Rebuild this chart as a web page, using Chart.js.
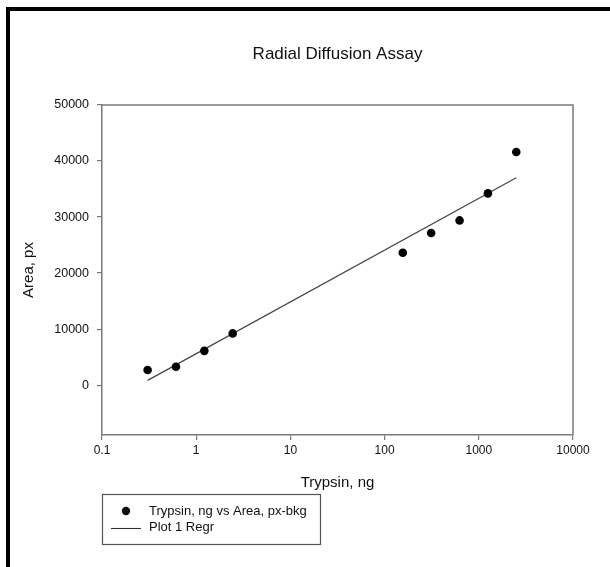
<!DOCTYPE html>
<html>
<head>
<meta charset="utf-8">
<script src="https://cdn.jsdelivr.net/npm/chart.js@4.4.1/dist/chart.umd.min.js"></script>
<style>
  html, body { margin: 0; padding: 0; background: #fff; }
  #wrap { position: relative; width: 610px; height: 567px; }
  #frame { position: absolute; left: 6px; top: 7px; right: 0; bottom: 0;
           border-top: 4px solid #000; border-left: 4px solid #000; pointer-events: none; }
  canvas { position: absolute; left: 0; top: 0; }
</style>
</head>
<body>
<div id="wrap">
  <canvas id="c" width="610" height="567"></canvas>
  <div id="frame"></div>
</div>
<script>
// ---- data ----
const trypsinNg = [0.305, 0.61, 1.22, 2.44, 156, 312, 625, 1250, 2500];
const areaPx    = [2700, 3270, 6120, 9230, 23620, 27150, 29400, 34230, 41600];
const regrX     = [0.305, 2500];
const regrY     = [850, 37030];
const xTickValues = [0.1, 1, 10, 100, 1000, 10000];
const yTickValues = [0, 10000, 20000, 30000, 40000, 50000];
const chartTitle  = 'Radial Diffusion Assay';
const seriesLabel = 'Trypsin, ng vs Area, px-bkg';
const regrLabel   = 'Plot 1 Regr';

const FONT = "'Liberation Sans', Arial, sans-serif";
const AXIS_GRAY = '#7a7a7a';

const pointData = trypsinNg.map((x, i) => ({ x: x, y: areaPx[i] }));
const regrData  = regrX.map((x, i) => ({ x: x, y: regrY[i] }));

const extrasPlugin = {
  id: 'extras',
  afterDraw(chart) {
    const { ctx, chartArea: a } = chart;
    ctx.save();
    // top and right sides of the plot box
    ctx.strokeStyle = AXIS_GRAY;
    ctx.lineWidth = 1.5;
    ctx.beginPath();
    ctx.moveTo(a.left, a.top);
    ctx.lineTo(a.right, a.top);
    ctx.lineTo(a.right, a.bottom);
    ctx.stroke();

    // title centred over the plot box
    ctx.font = '17px ' + FONT;
    ctx.fillStyle = '#111';
    ctx.textAlign = 'center';
    ctx.textBaseline = 'middle';
    ctx.fillText(chartTitle, (a.left + a.right) / 2, 54);

    // legend box
    const lx = 102, ly = 494, lw = 218, lh = 50;
    ctx.strokeStyle = '#555';
    ctx.lineWidth = 1.2;
    ctx.strokeRect(lx + 0.5, ly + 0.5, lw, lh);

    const ds = chart.data.datasets;
    ctx.font = '13px ' + FONT;
    ctx.fillStyle = '#111';
    ctx.textBaseline = 'middle';
    ctx.textAlign = 'left';
    // row 1: dot
    ctx.beginPath();
    ctx.arc(126, 511, 4.2, 0, Math.PI * 2);
    ctx.fill();
    ctx.fillText(ds[0].label, 149, 511);
    // row 2: line
    ctx.strokeStyle = '#333';
    ctx.lineWidth = 1.1;
    ctx.beginPath();
    ctx.moveTo(111, 528.5);
    ctx.lineTo(141, 528.5);
    ctx.stroke();
    ctx.fillText(ds[1].label, 149, 527);
    ctx.restore();
  }
};

new Chart(document.getElementById('c'), {
  type: 'scatter',
  data: {
    datasets: [
      {
        label: seriesLabel,
        data: pointData,
        pointRadius: 4.3,
        pointHoverRadius: 4.3,
        backgroundColor: '#000',
        borderColor: '#000',
        borderWidth: 0,
        showLine: false,
        order: 1
      },
      {
        label: regrLabel,
        data: regrData,
        showLine: true,
        pointRadius: 0,
        borderColor: '#444',
        borderWidth: 1.2,
        backgroundColor: 'transparent',
        order: 2
      }
    ]
  },
  options: {
    responsive: false,
    animation: false,
    events: [],
    layout: { padding: { left: 0, right: 37, top: 105, bottom: 67 } },
    plugins: {
      legend: { display: false },
      tooltip: { enabled: false },
      title: { display: false }
    },
    scales: {
      x: {
        type: 'logarithmic',
        min: 0.1,
        max: 10000,
        afterBuildTicks: (s) => { s.ticks = xTickValues.map(v => ({ value: v, major: true })); },
        afterFit: (s) => { s.height = 65; },
        ticks: {
          callback: (v) => String(v),
          color: '#111',
          font: { family: FONT, size: 12 },
          padding: 3,
          maxRotation: 0,
          autoSkip: false
        },
        grid: { drawOnChartArea: false, drawTicks: true, tickLength: 5, color: AXIS_GRAY, lineWidth: 1.2 },
        border: { display: true, color: AXIS_GRAY, width: 1.5 },
        title: {
          display: true,
          text: 'Trypsin, ng',
          color: '#111',
          font: { family: FONT, size: 15 },
          padding: { top: 0, bottom: 8 }
        }
      },
      y: {
        type: 'linear',
        min: -8900,
        max: 50000,
        afterBuildTicks: (s) => { s.ticks = yTickValues.map(v => ({ value: v })); },
        afterFit: (s) => { s.width = 102; },
        ticks: {
          callback: (v) => String(v),
          color: '#111',
          font: { family: FONT, size: 12.5 },
          padding: 8,
          autoSkip: false
        },
        grid: { drawOnChartArea: false, drawTicks: true, tickLength: 5, color: AXIS_GRAY, lineWidth: 1.2 },
        border: { display: true, color: AXIS_GRAY, width: 1.5 },
        title: {
          display: true,
          text: 'Area, px',
          color: '#111',
          font: { family: FONT, size: 15 },
          padding: { top: 20, bottom: 0 }
        }
      }
    }
  },
  plugins: [extrasPlugin]
});
</script>
</body>
</html>
